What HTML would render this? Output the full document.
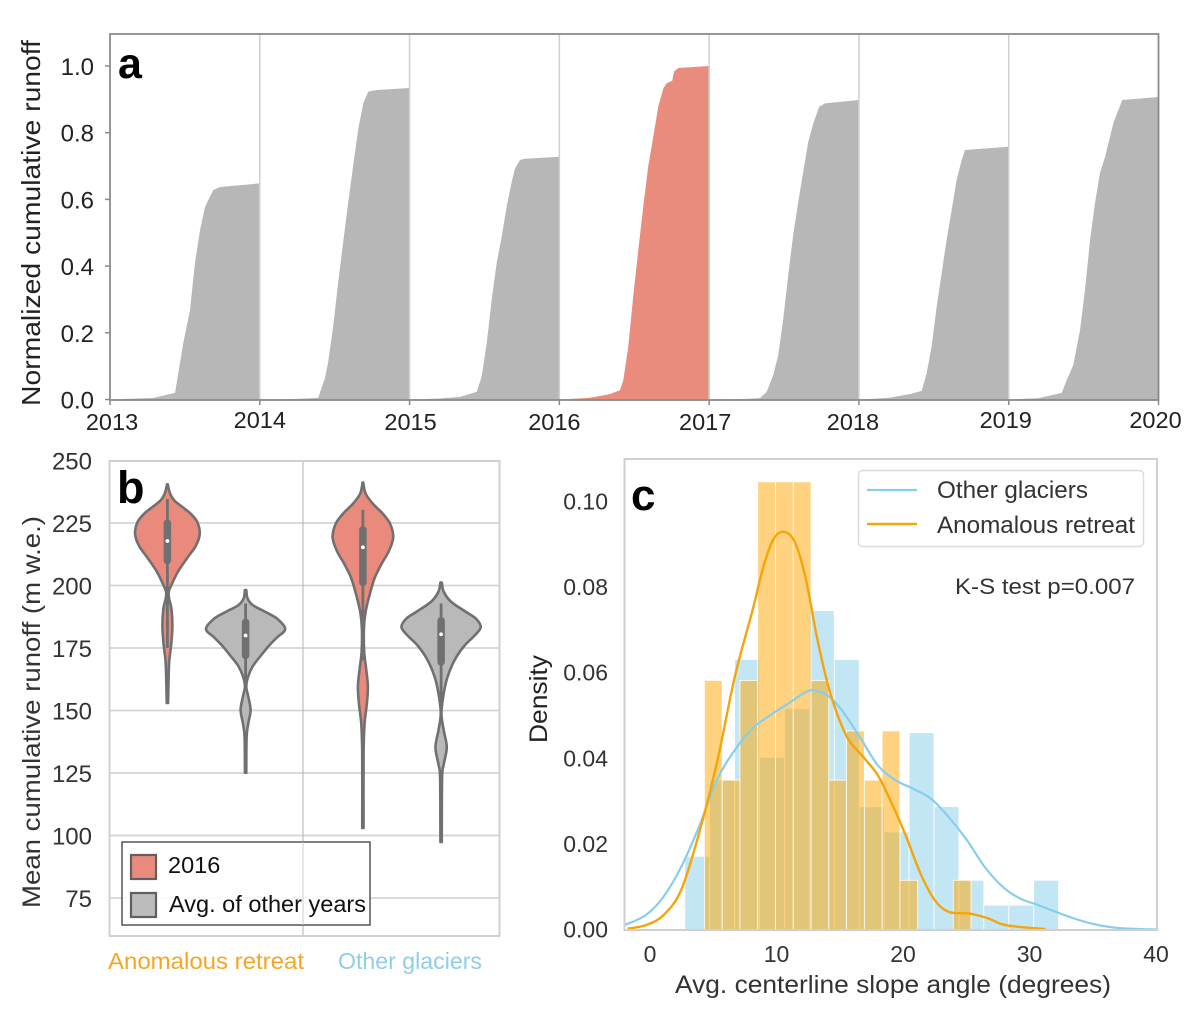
<!DOCTYPE html>
<html lang="en">
<head>
<meta charset="utf-8">
<title>Glacier runoff figure</title>
<style>
html,body{margin:0;padding:0;background:#fff;}
#figure{display:block;width:1200px;height:1020px;font-family:"Liberation Sans",sans-serif;}
</style>
</head>
<body>
<svg id="figure" xmlns="http://www.w3.org/2000/svg" width="1200" height="1020" viewBox="0 0 1200 1020">
  <rect x="0" y="0" width="1200" height="1020" fill="#ffffff"/>
  <g id="panel-a"></g>
  <g id="panel-b"></g>
  <g id="panel-c"></g>
</svg>
<script>
// ---------- Panel a data ----------
const years = [2013, 2014, 2015, 2016, 2017, 2018, 2019];
const yearEndLabels = ['2013', '2014', '2015', '2016', '2017', '2018', '2019', '2020'];
const runoffTicks = [0, 0.2, 0.4, 0.6, 0.8, 1.0];
const highlightYear = 2016;
const frac2013 = [0, 0.29, 0.34, 0.434, 0.445, 0.489, 0.534, 0.567, 0.601, 0.634, 0.656, 0.69, 0.734, 1];
const runoff2013 = [0, 0.005, 0.01, 0.02, 0.049, 0.169, 0.268, 0.409, 0.508, 0.577, 0.598, 0.628, 0.637, 0.648];
const frac2014 = [0, 0.25, 0.39, 0.435, 0.457, 0.491, 0.524, 0.557, 0.591, 0.624, 0.658, 0.691, 0.724, 0.78, 1];
const runoff2014 = [0, 0.002, 0.005, 0.064, 0.113, 0.223, 0.353, 0.473, 0.593, 0.703, 0.813, 0.888, 0.923, 0.928, 0.934];
const frac2015 = [0, 0.2, 0.336, 0.448, 0.481, 0.515, 0.548, 0.581, 0.615, 0.648, 0.682, 0.704, 0.737, 0.77, 1];
const runoff2015 = [0, 0.003, 0.008, 0.023, 0.068, 0.168, 0.298, 0.408, 0.488, 0.578, 0.653, 0.693, 0.718, 0.722, 0.728];
const frac2016 = [0, 0.2, 0.338, 0.405, 0.427, 0.46, 0.493, 0.527, 0.56, 0.593, 0.627, 0.66, 0.694, 0.716, 0.754, 0.765, 0.794, 1];
const runoff2016 = [0, 0.005, 0.016, 0.028, 0.058, 0.158, 0.308, 0.448, 0.578, 0.698, 0.788, 0.878, 0.933, 0.948, 0.956, 0.983, 0.994, 1.0];
const frac2017 = [0, 0.25, 0.339, 0.384, 0.428, 0.461, 0.495, 0.528, 0.561, 0.595, 0.628, 0.662, 0.695, 0.735, 0.773, 1];
const runoff2017 = [0, 0.002, 0.004, 0.023, 0.073, 0.133, 0.243, 0.373, 0.493, 0.593, 0.683, 0.773, 0.828, 0.878, 0.888, 0.898];
const frac2018 = [0, 0.2, 0.34, 0.419, 0.452, 0.485, 0.519, 0.552, 0.585, 0.619, 0.652, 0.686, 0.708, 1];
const runoff2018 = [0, 0.005, 0.016, 0.026, 0.078, 0.158, 0.278, 0.378, 0.478, 0.568, 0.658, 0.718, 0.748, 0.758];
const frac2019 = [0, 0.2, 0.354, 0.387, 0.431, 0.476, 0.509, 0.543, 0.576, 0.609, 0.643, 0.676, 0.698, 0.732, 0.758, 1];
const runoff2019 = [0, 0.004, 0.02, 0.058, 0.103, 0.208, 0.328, 0.478, 0.589, 0.679, 0.727, 0.787, 0.828, 0.868, 0.898, 0.907];
const fracSeries = [frac2013, frac2014, frac2015, frac2016, frac2017, frac2018, frac2019];
const runoffSeries = [runoff2013, runoff2014, runoff2015, runoff2016, runoff2017, runoff2018, runoff2019];

// ---------- Panel b data ----------
const violinCategories = ['Anomalous retreat', 'Other glaciers'];
const meanRunoffTicks = [75, 100, 125, 150, 175, 200, 225, 250];
const anom2016Values = [240.5, 236.8, 234.1, 231.4, 228.7, 225.3, 220.5, 215.8, 211.1, 205.6, 200.2, 197.5, 194.8, 190.8, 184, 177.2, 170.5, 165, 153];
const anom2016Density = [0.01, 0.08, 0.2, 0.45, 0.7, 0.9, 0.97, 0.85, 0.6, 0.32, 0.12, 0.04, 0.05, 0.12, 0.15, 0.12, 0.06, 0.04, 0.02];
const anomOtherValues = [198.2, 194.8, 192.1, 189.4, 186.7, 182.6, 179.3, 175.9, 171.8, 167.8, 163.7, 159.6, 155.6, 150.2, 144.8, 139.3, 125.1];
const anomOtherDensity = [0.02, 0.06, 0.22, 0.6, 0.95, 1.19, 0.95, 0.7, 0.45, 0.22, 0.08, 0.02, 0.08, 0.15, 0.08, 0.03, 0.02];
const otherGl2016Values = [241.2, 236.8, 232.7, 228.7, 224.6, 219.2, 213.8, 208.4, 202.9, 196.2, 189.4, 182.6, 173.2, 166.4, 159.6, 152.9, 144.8, 132.6, 103];
const otherGl2016Density = [0.01, 0.08, 0.3, 0.6, 0.82, 0.91, 0.78, 0.55, 0.35, 0.2, 0.08, 0.03, 0.04, 0.1, 0.15, 0.12, 0.05, 0.02, 0.02];
const otherGlOtherValues = [201.2, 197.5, 193.5, 189.4, 186.7, 183.3, 179.9, 175.9, 170.5, 163.7, 156.9, 148.8, 142, 135.3, 128.5, 123.1, 97.4];
const otherGlOtherDensity = [0.02, 0.08, 0.3, 0.75, 1.05, 1.19, 1.0, 0.7, 0.42, 0.2, 0.08, 0.01, 0.08, 0.17, 0.08, 0.03, 0.02];
const whiskerTops = [234.6, 192.8, 230.3, 192.8];
const whiskerBottoms = [175, 162, 170, 147.5];
const boxTops = [224.9, 185.3, 222.3, 186];
const boxBottoms = [210, 172, 201.2, 169.4];
const medians = [217.8, 180, 215.3, 180.5];

// ---------- Panel c data ----------
const slopeTicks = [0, 10, 20, 30, 40];
const densityTicks = [0, 0.02, 0.04, 0.06, 0.08, 0.10];
const otherBinStart = 2.75;
const otherBinWidth = 1.97;
const otherHist = [0.0171, 0.0349, 0.0631, 0.0402, 0.0516, 0.0745, 0.0631, 0.0287, 0.0228, 0.046, 0.0287, 0.0115, 0.0057, 0.0057, 0.0115];
const anomBinStart = 4.3;
const anomBinWidth = 1.405;
const anomHist = [0.0582, 0.0349, 0.0582, 0.1046, 0.1046, 0.1046, 0.0582, 0.0349, 0.0464, 0.0349, 0.0464, 0.0115, 0, 0, 0.0115];
const otherKdeX = [-2.05, -0.36, 1.05, 2.46, 3.87, 5.28, 6.7, 8.11, 9.52, 10.93, 12.34, 13.05, 14.04, 15.17, 16.58, 18, 19.4, 20.8, 22.2, 23.6, 25.05, 26.46, 27.87, 29.28, 30.7, 32.1, 33.5, 34.9, 36.3, 37.75, 40];
const otherKdeY = [0.001, 0.0033, 0.0076, 0.0146, 0.024, 0.0349, 0.0419, 0.047, 0.0501, 0.0528, 0.0555, 0.0558, 0.0547, 0.0512, 0.045, 0.0384, 0.0349, 0.0329, 0.0306, 0.0263, 0.0209, 0.0146, 0.01, 0.0072, 0.0057, 0.0041, 0.0026, 0.0014, 0.0006, 0.0002, 0];
const anomKdeX = [-1.77, -0.36, 1.05, 2.46, 3.87, 5.28, 6.7, 8.11, 8.96, 9.8, 10.65, 11.5, 12.34, 13.19, 14.04, 14.88, 15.73, 16.86, 18, 19.12, 20.25, 21.38, 22.5, 23.63, 25.33, 26.74, 28.15, 31.25];
const anomKdeY = [0.0002, 0.001, 0.0033, 0.0092, 0.0224, 0.0388, 0.059, 0.0746, 0.0847, 0.0914, 0.0929, 0.0902, 0.0816, 0.0684, 0.0575, 0.0497, 0.0442, 0.0403, 0.0361, 0.0294, 0.0217, 0.0131, 0.0069, 0.0041, 0.0037, 0.0026, 0.001, 0.0001];

// ---------- Helpers ----------
const NS = 'http://www.w3.org/2000/svg';
function mk(tag, attrs, parent, text) {
  const node = document.createElementNS(NS, tag);
  for (const k in attrs) node.setAttribute(k, attrs[k]);
  if (text !== undefined) node.textContent = text;
  parent.appendChild(node);
  return node;
}
function segs(pts) {
  const n = pts.length;
  let d = '';
  for (let i = 0; i < n - 1; i++) {
    const p0 = pts[Math.max(i - 1, 0)], p1 = pts[i], p2 = pts[i + 1], p3 = pts[Math.min(i + 2, n - 1)];
    const c1x = p1[0] + (p2[0] - p0[0]) / 6, c1y = p1[1] + (p2[1] - p0[1]) / 6;
    const c2x = p2[0] - (p3[0] - p1[0]) / 6, c2y = p2[1] - (p3[1] - p1[1]) / 6;
    d += 'C' + c1x.toFixed(2) + ' ' + c1y.toFixed(2) + ' ' + c2x.toFixed(2) + ' ' + c2y.toFixed(2) + ' ' + p2[0].toFixed(2) + ' ' + p2[1].toFixed(2);
  }
  return d;
}
function pt(p) { return p[0].toFixed(2) + ' ' + p[1].toFixed(2); }
function smooth(pts) { return 'M' + pt(pts[0]) + segs(pts); }

// ---------- Panel a ----------
const pa = document.getElementById('panel-a');
const aX = v => 110 + (v - 2013) * (1158.5 - 110) / 7;
const aY = v => 399.5 - v * 333.5;
const yearLabelShift = [2, 0, 1, -5, -4, -6, -3, -3];
const yearLabelLift = [0, 2, 0, 0, 0, 0, 2, 2];
years.forEach((yr, i) => {
  const f = fracSeries[i], r = runoffSeries[i];
  let pts = aX(yr).toFixed(2) + ',' + aY(0).toFixed(2);
  f.forEach((fr, j) => { pts += ' ' + aX(yr + fr).toFixed(2) + ',' + aY(r[j]).toFixed(2); });
  pts += ' ' + aX(yr + 1).toFixed(2) + ',' + aY(0).toFixed(2);
  const area = mk('polygon', {points: pts, fill: yr === highlightYear ? '#e98c7e' : '#b7b7b7'}, pa);
  
  
});
yearEndLabels.forEach((lab, i) => {
  const x = aX(2013 + i);
  if (i > 0 && i < 7) {
    const gl = mk('line', {x1: x, x2: x, y1: 35, y2: 400, stroke: '#cfcfcf', 'stroke-width': 1.5}, pa);
    
    
  }
  const tk = mk('line', {x1: x, x2: x, y1: 400, y2: 405, stroke: '#888888', 'stroke-width': 1.5}, pa);
  
  
  const t = mk('text', {x: x + yearLabelShift[i], y: 430 - yearLabelLift[i], 'text-anchor': 'middle', 'font-size': 23.5, fill: '#222222'}, pa, lab);
  
  
});
runoffTicks.forEach(v => {
  const y = aY(v);
  const tk = mk('line', {x1: 105, x2: 110, y1: y, y2: y, stroke: '#888888', 'stroke-width': 1.5}, pa);
  
  
  const t = mk('text', {x: 94, y: y + 9, 'text-anchor': 'end', 'font-size': 24, fill: '#222222'}, pa, v.toFixed(1));
  
  
});
const aFrame = mk('rect', {x: 110, y: 34, width: 1048.5, height: 366, fill: 'none', stroke: '#8a8a8a', 'stroke-width': 1.8}, pa);


const aTitle = mk('text', {x: 40, y: 223, transform: 'rotate(-90 40 223)', 'text-anchor': 'middle', 'font-size': 26, fill: '#222222', textLength: 366, lengthAdjust: 'spacingAndGlyphs'}, pa, 'Normalized cumulative runoff');


const aLetter = mk('text', {x: 118, y: 78, 'font-size': 43, 'font-weight': 'bold', fill: '#000000'}, pa, 'a');



// ---------- Panel b ----------
const pb = document.getElementById('panel-b');
const bX = v => 206.5 + v * 195.5;
const bY = v => 523 + (225 - v) * 2.5;
const bW = d => d * 33.3;
meanRunoffTicks.forEach(v => {
  const y = bY(v);
  if (v < 250) {
    const gl = mk('line', {x1: 109, x2: 500, y1: y, y2: y, stroke: '#d4d4d4', 'stroke-width': 1.8}, pb);
    
    
  }
  const t = mk('text', {x: 92, y: y + 9, 'text-anchor': 'end', 'font-size': 24, fill: '#333333'}, pb, String(v));
  
  
});
const bDiv = mk('line', {x1: 303, x2: 303, y1: 461, y2: 936, stroke: '#b0b0b0', 'stroke-width': 1}, pb);


const bFrame = mk('rect', {x: 109.5, y: 461, width: 390, height: 475, fill: 'none', stroke: '#d0d0d0', 'stroke-width': 2}, pb);



const violinValueSets = [anom2016Values, anomOtherValues, otherGl2016Values, otherGlOtherValues];
const violinDensitySets = [anom2016Density, anomOtherDensity, otherGl2016Density, otherGlOtherDensity];
const violinCats = [0, 0, 1, 1];
const violinHues = [-0.2, 0.2, -0.2, 0.2];
const violinFills = ['#e98a7c', '#b9b9b9', '#e98a7c', '#b9b9b9'];
const violinNames = ['anomalous-2016', 'anomalous-other-years', 'other-glaciers-2016', 'other-glaciers-other-years'];
violinValueSets.forEach((vals, i) => {
  const cx = bX(violinCats[i] + violinHues[i]);
  const dens = violinDensitySets[i];
  const right = vals.map((v, j) => [cx + bW(dens[j]), bY(v)]);
  const left = vals.map((v, j) => [cx - bW(dens[j]), bY(v)]).reverse();
  const outline = 'M' + pt(right[0]) + segs(right) + 'L' + pt(left[0]) + segs(left) + 'Z';
  const body = mk('path', {d: outline, fill: violinFills[i], stroke: '#707070', 'stroke-width': 2.6, 'stroke-linejoin': 'round'}, pb);
  
  
  const whisk = mk('line', {x1: cx, x2: cx, y1: bY(whiskerTops[i]), y2: bY(whiskerBottoms[i]), stroke: '#707070', 'stroke-width': 2.8}, pb);
  
  
  const box = mk('line', {x1: cx, x2: cx, y1: bY(boxTops[i]), y2: bY(boxBottoms[i]), stroke: '#707070', 'stroke-width': 7.5, 'stroke-linecap': 'round'}, pb);
  
  
  const med = mk('circle', {cx: cx, cy: bY(medians[i]), r: 1.9, fill: '#ffffff'}, pb);
  
  
});
const bLegend = mk('rect', {x: 122, y: 842, width: 248, height: 83, fill: '#ffffff', 'fill-opacity': 0.85, stroke: '#555555', 'stroke-width': 1.5}, pb);


const bDiv2 = mk('line', {x1: 303, x2: 303, y1: 842, y2: 925, stroke: '#cccccc', 'stroke-width': 1}, pb);


const patch1 = mk('rect', {x: 131, y: 855, width: 25, height: 24, fill: '#e98a7c', stroke: '#606060', 'stroke-width': 2.2}, pb);


const patch2 = mk('rect', {x: 131, y: 893, width: 25, height: 24, fill: '#bcbcbc', stroke: '#606060', 'stroke-width': 2.2}, pb);


const lab1 = mk('text', {x: 168, y: 873, 'font-size': 23.5, fill: '#111111'}, pb, '2016');


const lab2 = mk('text', {x: 169, y: 912, 'font-size': 23.5, fill: '#111111', textLength: 197, lengthAdjust: 'spacingAndGlyphs'}, pb, 'Avg. of other years');


const catColors = ['#f5a623', '#8fcde8'];
const catLabelX = [108, 338];
const catLabelW = [196, 144];
violinCategories.forEach((c, i) => {
  const t = mk('text', {x: catLabelX[i], y: 969, 'font-size': 23, fill: catColors[i], textLength: catLabelW[i], lengthAdjust: 'spacingAndGlyphs'}, pb, c);
  
  
});
const bTitle = mk('text', {x: 40, y: 712, transform: 'rotate(-90 40 712)', 'text-anchor': 'middle', 'font-size': 25, fill: '#333333', textLength: 392, lengthAdjust: 'spacingAndGlyphs'}, pb, 'Mean cumulative runoff (m w.e.)');


const bLetter = mk('text', {x: 117, y: 503, 'font-size': 45, 'font-weight': 'bold', fill: '#000000'}, pb, 'b');



// ---------- Panel c ----------
const pc = document.getElementById('panel-c');
const cX = v => 650 + v * 12.65;
const cY = v => 929.5 - v * 4280;
otherHist.forEach((d, i) => {
  const x0 = otherBinStart + i * otherBinWidth;
  const bar = mk('rect', {x: cX(x0), y: cY(d), width: otherBinWidth * 12.65, height: cY(0) - cY(d), fill: '#87ceeb', 'fill-opacity': 0.5, stroke: '#ffffff', 'stroke-width': 0.8}, pc);
  
  
});
anomHist.forEach((d, i) => {
  if (d <= 0) return;
  const x0 = anomBinStart + i * anomBinWidth;
  const bar = mk('rect', {x: cX(x0), y: cY(d), width: anomBinWidth * 12.65, height: cY(0) - cY(d), fill: '#ffa500', 'fill-opacity': 0.5, stroke: '#ffffff', 'stroke-width': 0.8}, pc);
  
  
});
const kde1 = mk('path', {d: smooth(otherKdeX.map((x, i) => [cX(x), cY(otherKdeY[i])])), fill: 'none', stroke: '#87ceeb', 'stroke-width': 2.2}, pc);


const kde2 = mk('path', {d: smooth(anomKdeX.map((x, i) => [cX(x), cY(anomKdeY[i])])), fill: 'none', stroke: '#f5a50c', 'stroke-width': 2.4}, pc);


const cFrame = mk('rect', {x: 624.5, y: 459, width: 532.5, height: 471, fill: 'none', stroke: '#cfcfcf', 'stroke-width': 2}, pc);


densityTicks.forEach(v => {
  const lab = v.toFixed(2);
  const t = mk('text', {x: 608, y: cY(v) + 8, 'text-anchor': 'end', 'font-size': 23, fill: '#333333'}, pc, lab);
  
  
});
slopeTicks.forEach(v => {
  const t = mk('text', {x: cX(v), y: 962, 'text-anchor': 'middle', 'font-size': 23, fill: '#333333'}, pc, String(v));
  
  
});
const cLegend = mk('rect', {x: 858.5, y: 470.5, width: 285, height: 76, rx: 4, fill: '#ffffff', 'fill-opacity': 0.85, stroke: '#dcdcdc', 'stroke-width': 1.5}, pc);


const cl1 = mk('line', {x1: 867, x2: 917, y1: 490, y2: 490, stroke: '#87ceeb', 'stroke-width': 2.2}, pc);


const cl2 = mk('line', {x1: 867, x2: 917, y1: 524, y2: 524, stroke: '#f5a50c', 'stroke-width': 2.4}, pc);


const ct1 = mk('text', {x: 937, y: 498, 'font-size': 24, fill: '#333333', textLength: 151, lengthAdjust: 'spacingAndGlyphs'}, pc, 'Other glaciers');


const ct2 = mk('text', {x: 937, y: 533, 'font-size': 24, fill: '#333333', textLength: 198, lengthAdjust: 'spacingAndGlyphs'}, pc, 'Anomalous retreat');


const ks = mk('text', {x: 955, y: 594, 'font-size': 22, fill: '#333333', textLength: 180, lengthAdjust: 'spacingAndGlyphs'}, pc, 'K-S test p=0.007');


const cyT = mk('text', {x: 547, y: 699, transform: 'rotate(-90 547 699)', 'text-anchor': 'middle', 'font-size': 25, fill: '#222222', textLength: 88, lengthAdjust: 'spacingAndGlyphs'}, pc, 'Density');


const cxT = mk('text', {x: 675, y: 993, 'font-size': 25, fill: '#333333', textLength: 436, lengthAdjust: 'spacingAndGlyphs'}, pc, 'Avg. centerline slope angle (degrees)');


const cLetter = mk('text', {x: 631, y: 510, 'font-size': 44, 'font-weight': 'bold', fill: '#000000'}, pc, 'c');


</script>
</body>
</html>
